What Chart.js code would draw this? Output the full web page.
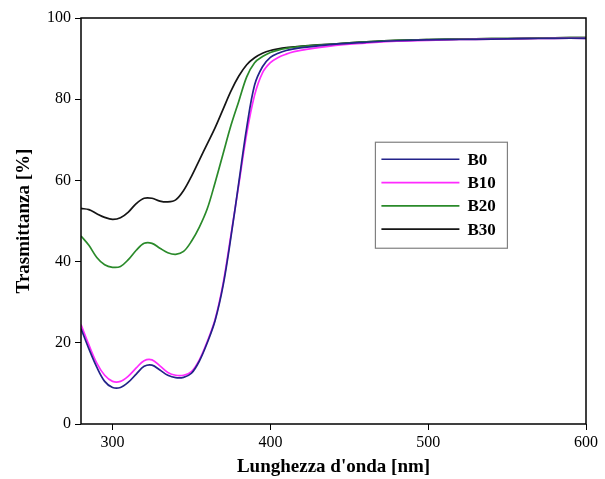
<!DOCTYPE html>
<html>
<head>
<meta charset="utf-8">
<script src="https://cdn.jsdelivr.net/npm/chart.js@4/dist/chart.umd.min.js"></script>
<style>
html,body{margin:0;padding:0;background:#fff;}
#wrap{width:605px;height:479px;}
</style>
</head>
<body>
<div id="wrap"><canvas id="c" width="605" height="479"></canvas></div>
<script>
const wavelengths = [280,285,290,295,300,305,310,315,320,325,330,335,340,345,350,355,360,365,370,375,380,385,390,395,400,405,410,415,420,440,460,480,500,520,540,560,580,600];
const b0  = [23.5,18.5,14.0,10.5,9.0,9.0,10.3,12.3,14.2,14.5,13.3,12.0,11.4,11.5,12.5,15.5,20.0,25.5,34.0,46.0,59.5,73.0,83.5,88.0,90.3,91.3,92.0,92.4,92.7,93.5,94.0,94.4,94.6,94.7,94.8,94.9,95.0,95.0];
const b10 = [24.5,19.5,15.0,12.0,10.5,10.5,11.8,13.8,15.6,15.8,14.3,12.7,12.0,12.0,12.9,15.8,20.3,25.8,34.5,46.5,59.0,71.5,81.0,86.5,89.0,90.3,91.1,91.7,92.1,93.2,93.8,94.3,94.5,94.7,94.8,94.9,95.0,95.0];
const b20 = [46.3,44.0,41.0,39.2,38.6,38.8,40.5,42.8,44.5,44.5,43.3,42.2,41.8,42.5,45.0,48.5,53.0,59.5,66.5,73.5,79.5,85.5,89.0,90.5,91.5,92.1,92.5,92.8,93.0,93.6,94.1,94.5,94.7,94.8,94.9,95.0,95.1,95.2];
const b30 = [53.1,52.8,51.8,50.9,50.4,50.8,52.2,54.3,55.6,55.6,54.9,54.7,55.2,57.5,61.0,65.0,69.0,73.0,77.5,82.0,85.7,88.5,90.2,91.3,92.0,92.4,92.7,92.9,93.1,93.6,94.1,94.5,94.7,94.8,94.9,95.0,95.1,95.2];
const seriesLabels = ["B0","B10","B20","B30"];
const xTicks = [300,400,500,600];
const yTicks = [0,20,40,60,80,100];

const colors = ["#23238a","#ff2bff","#2a8a2a","#151515"];
const allSeries = [b0,b10,b20,b30];

const datasets = allSeries.map((s,i)=>({
  label: seriesLabels[i],
  data: s.map((v,j)=>({x: wavelengths[j], y: v})),
  borderColor: colors[i],
  backgroundColor: colors[i],
  borderWidth: 1.7,
  pointRadius: 0,
  tension: 0.35,
  fill: false
}));

const serif = "'Liberation Serif','DejaVu Serif',serif";

const framePlugin = {
  id: 'frame',
  afterDatasetsDraw(chart){
    const {ctx, chartArea:a} = chart;
    ctx.save();
    ctx.strokeStyle = '#000';
    ctx.lineWidth = 1.5;
    ctx.strokeRect(a.left, a.top, a.right - a.left, a.bottom - a.top);
    ctx.restore();
  }
};

const boxLegend = {
  id: 'boxLegend',
  afterDraw(chart){
    const {ctx, chartArea:a} = chart;
    const w = a.right - a.left, h = a.bottom - a.top;
    const bx = a.left + w*0.583, by = a.top + h*0.306;
    const bw = 132, bh = 106;
    ctx.save();
    ctx.fillStyle = '#fff';
    ctx.fillRect(bx, by, bw, bh);
    ctx.strokeStyle = '#808080';
    ctx.lineWidth = 1.2;
    ctx.strokeRect(bx, by, bw, bh);
    ctx.font = "bold 17px " + serif;
    ctx.textBaseline = 'middle';
    ctx.textAlign = 'left';
    chart.data.datasets.forEach((ds,i)=>{
      const y = by + 17 + i*23.3;
      ctx.strokeStyle = ds.borderColor;
      ctx.lineWidth = 1.7;
      ctx.beginPath();
      ctx.moveTo(bx + 6, y);
      ctx.lineTo(bx + 84, y);
      ctx.stroke();
      ctx.fillStyle = '#000';
      ctx.fillText(ds.label, bx + 92, y + 1);
    });
    ctx.restore();
  }
};

new Chart(document.getElementById('c'), {
  type: 'line',
  data: { datasets },
  options: {
    responsive: false,
    animation: false,
    devicePixelRatio: 1,
    layout: { padding: { top: 18, right: 19, left: 0, bottom: 0 } },
    plugins: { legend: { display: false }, tooltip: { enabled: false } },
    scales: {
      x: {
        type: 'linear',
        min: 280, max: 600,
        afterBuildTicks(scale){ scale.ticks = xTicks.map(v=>({value:v})); },
        afterFit(scale){ scale.height = 55; },
        grid: { display: true, drawOnChartArea: false, drawTicks: true, tickLength: 6, color: '#000', lineWidth: 1 },
        border: { display: false },
        ticks: { color: '#000', font: { family: serif, size: 16 }, padding: 3, maxRotation: 0 },
        title: { display: true, text: "Lunghezza d'onda [nm]", color: '#000', font: { family: serif, size: 19, weight: 'bold' }, padding: { top: 0, bottom: 1 } }
      },
      y: {
        type: 'linear',
        min: 0, max: 100,
        afterBuildTicks(scale){ scale.ticks = yTicks.map(v=>({value:v})); },
        afterFit(scale){ scale.width = 81; },
        grid: { display: true, drawOnChartArea: false, drawTicks: true, tickLength: 6, color: '#000', lineWidth: 1 },
        border: { display: false },
        ticks: { color: '#000', font: { family: serif, size: 16 }, padding: 4 },
        title: { display: true, text: 'Trasmittanza [%]', color: '#000', font: { family: serif, size: 19, weight: 'bold' }, padding: { top: 13, bottom: 0 } }
      }
    }
  },
  plugins: [framePlugin, boxLegend]
});
</script>
</body>
</html>
